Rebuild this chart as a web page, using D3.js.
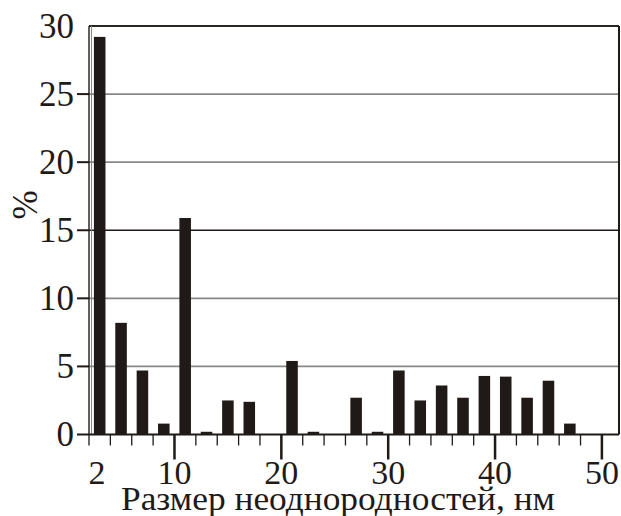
<!DOCTYPE html>
<html>
<head>
<meta charset="utf-8">
<script src="https://cdn.jsdelivr.net/npm/d3@7"></script>
<style>
  html, body { margin: 0; padding: 0; background: #fff; }
  svg { display: block; }
  text { font-family: "Liberation Serif", "Times New Roman", serif; fill: #1f1a17; }
</style>
</head>
<body>
<svg id="chart" width="621" height="516"></svg>
<script>
// bin centres, nm
const sizes = [3, 5, 7, 9, 11, 13, 15, 17, 19, 21, 23, 25, 27, 29, 31, 33, 35, 37, 39, 41, 43, 45, 47]
// share of inhomogeneities, %
const percents = [29.2, 8.2, 4.7, 0.8, 15.9, 0.2, 2.5, 2.4, 0, 5.4, 0.2, 0, 2.7, 0.2, 4.7, 2.5, 3.6, 2.7, 4.3, 4.25, 2.7, 3.95, 0.8]

const yTicks = [0, 5, 10, 15, 20, 25, 30]
const xMajor = [10, 20, 30, 40, 50]
const xMinor = [2, 4, 6, 8, 12, 14, 16, 18, 22, 24, 26, 28, 32, 34, 36, 38, 42, 44, 46, 48]
const xLabels = [2, 10, 20, 30, 40, 50]

const ink = '#1f1a17'
const svg = d3.select('#chart')
const plotLeft = 89, plotRight = 619, plotTop = 26, plotBottom = 434.5

let x = d3.scaleLinear().domain([2, 51.6]).range([plotLeft, plotRight])
let y = d3.scaleLinear().domain([0, 30]).range([plotBottom, plotTop])

// gridlines
svg.append('g')
  .selectAll('line')
  .data(yTicks.filter(d => d > 0 && d < 30))
  .join('line')
  .attr('x1', plotLeft).attr('x2', plotRight)
  .attr('y1', d => y(d)).attr('y2', d => y(d))
  .attr('stroke', d => d === 15 ? ink : '#8a8787')
  .attr('stroke-width', 1.6)

// frame
svg.append('line').attr('x1', plotLeft).attr('x2', plotRight).attr('y1', plotTop).attr('y2', plotTop)
  .attr('stroke', '#2a2624').attr('stroke-width', 2)
svg.append('line').attr('x1', plotRight).attr('x2', plotRight).attr('y1', plotTop).attr('y2', plotBottom)
  .attr('stroke', ink).attr('stroke-width', 2)
svg.append('line').attr('x1', plotLeft).attr('x2', plotLeft).attr('y1', plotTop).attr('y2', plotBottom)
  .attr('stroke', ink).attr('stroke-width', 1.4)
svg.append('line').attr('x1', plotLeft + 2.5).attr('x2', plotLeft + 2.5).attr('y1', plotTop).attr('y2', plotBottom)
  .attr('stroke', '#8a8787').attr('stroke-width', 1)

// bars
const half = 0.54
svg.append('g')
  .selectAll('rect')
  .data(sizes.map((s, i) => ({ s, v: percents[i] })))
  .join('rect')
  .attr('x', d => x(d.s - half))
  .attr('width', d => x(d.s + half) - x(d.s - half))
  .attr('y', d => y(d.v))
  .attr('height', d => y(0) - y(d.v))
  .attr('fill', ink)

// zero line
svg.append('line').attr('x1', plotLeft).attr('x2', plotRight).attr('y1', plotBottom).attr('y2', plotBottom)
  .attr('stroke', ink).attr('stroke-width', 2)

// y ticks and labels
let yg = svg.append('g').selectAll('g').data(yTicks).join('g')
yg.filter(d => d < 30).append('line')
  .attr('x1', plotLeft - 12).attr('x2', plotLeft)
  .attr('y1', d => y(d)).attr('y2', d => y(d))
  .attr('stroke', ink).attr('stroke-width', 2)
yg.append('text')
  .attr('x', plotLeft - 15)
  .attr('y', d => y(d))
  .attr('dy', '0.34em')
  .attr('text-anchor', 'end')
  .attr('font-size', 35)
  .text(d => d)

// x ticks
svg.append('g').selectAll('line').data(xMinor).join('line')
  .attr('x1', d => x(d)).attr('x2', d => x(d))
  .attr('y1', plotBottom).attr('y2', plotBottom + 11)
  .attr('stroke', ink).attr('stroke-width', 1.3)
svg.append('g').selectAll('line').data(xMajor).join('line')
  .attr('x1', d => x(d)).attr('x2', d => x(d))
  .attr('y1', plotBottom).attr('y2', plotBottom + 25)
  .attr('stroke', ink).attr('stroke-width', 2.5)

svg.append('g').selectAll('text').data(xLabels).join('text')
  .attr('x', d => d === 2 ? x(d) + 8 : x(d))
  .attr('y', 484)
  .attr('text-anchor', 'middle')
  .attr('font-size', 34)
  .text(d => d)

// axis titles
svg.append('text')
  .attr('x', 338).attr('y', 510)
  .attr('text-anchor', 'middle')
  .attr('font-size', 34)
  .attr('textLength', 434)
  .attr('lengthAdjust', 'spacingAndGlyphs')
  .text('Размер неоднородностей, нм')

svg.append('text')
  .attr('transform', 'translate(37,205) rotate(-90)')
  .attr('text-anchor', 'middle')
  .attr('font-size', 35)
  .text('%')
</script>
</body>
</html>
